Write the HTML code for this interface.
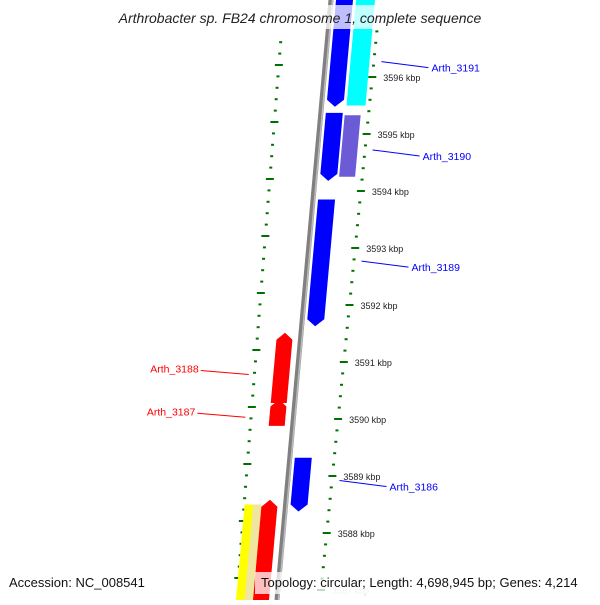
<!DOCTYPE html>
<html><head><meta charset="utf-8"><style>
body{margin:0;background:#fff}
svg text{font-family:"Liberation Sans","DejaVu Sans",sans-serif}
</style></head><body>
<svg id="c" width="600" height="600" viewBox="0 0 600 600" xmlns="http://www.w3.org/2000/svg">
<rect width="600" height="600" fill="#fff"/>
<g id="rulers"></g>
<line x1="331" y1="0" x2="277" y2="600" stroke="#808080" stroke-width="5"/>
<line x1="332.5" y1="0" x2="278.5" y2="600" stroke="#bbb" stroke-width="1.5"/>
<g id="genes"></g>
<g id="labels"></g>
<text x="300" y="23" text-anchor="middle" font-size="14" font-style="italic" fill="#222">Arthrobacter sp. FB24 chromosome 1, complete sequence</text>
<text x="9" y="587" font-size="13" fill="#111">Accession: NC_008541</text>
<text x="261" y="587" font-size="13" fill="#111">Topology: circular; Length: 4,698,945 bp; Genes: 4,214</text>
</svg>
<script>
// data (kbp)
const tickKbp=[3596,3595,3594,3593,3592,3591,3590,3589,3588,3587];
const geneNames=["Arth_3191a","Arth_3191","Arth_3190a","Arth_3190","Arth_3189","Arth_3188","Arth_3187","Arth_3186","yellow-a","red-b"];
const geneStart=[3597.4,3597.4,3595.37,3595.33,3593.85,3591.39,3590.22,3589.32,3588.5,3588.46];
const geneEnd=[3595.6,3595.5,3594.3,3594.25,3591.75,3590.28,3589.88,3588.5,3586.2,3586.2];
const geneStrand=[-1,0,-1,0,-1,1,1,-1,0,1];
const geneLane=["blue","cyan","blue","purple","blue","red","red","blue","yellow","red"];
const labelNames=["Arth_3191","Arth_3190","Arth_3189","Arth_3188","Arth_3187","Arth_3186"];
const labelKbp=[3596.2,3594.65,3592.7,3590.85,3590.1,3588.85];
const labelSide=[1,1,1,-1,-1,1];

const NS="http://www.w3.org/2000/svg";
const yOf=k=>77+(3596-k)*57;
const bb=y=>331-0.09*y;
const laneOff={blue:[5,22],cyan:[25,44],purple:[24,40],red:[-24,-8],yellow:[-41,-24]};
const laneCol={blue:"#0000ff",cyan:"#00ffff",purple:"#6b5bd6",red:"#ff0000",yellow:"#ffff00"};
function mk(t,a,p){const e=document.createElementNS(NS,t);for(const k in a)e.setAttribute(k,a[k]);p.appendChild(e);return e;}

// rulers
const R=document.getElementById("rulers");
const rx=y=>380-0.1*y, lx=y=>284-0.079*y;
for(let i=-6;i<=50;i++){
  const k=3596-i*0.2; const y=yOf(k); if(y<30||y>600)continue;
  const major=i%5===0;
  const x=rx(y);
  const d=mk("line",{x1:x-(major?4:1.5),y1:y,x2:x+(major?4:1.5),y2:y,stroke:"#007000","stroke-width":2},R);
  
  
  const y2=y-12; if(y2>40){const x2=lx(y2);
  const e=mk("line",{x1:x2-(major?4:1.5),y1:y2,x2:x2+(major?4:1.5),y2:y2,stroke:"#007000","stroke-width":2},R);
  
  }
}
tickKbp.forEach(k=>{const y=yOf(k);const t=mk("text",{x:rx(y)+11,y:y+4,"font-size":9,fill:"#222"},R);t.textContent=k+" kbp";
  if(y>570)t.setAttribute("fill","#ccc");
  
  });

// genes
const G=document.getElementById("genes");
geneNames.forEach((n,i)=>{
  const o=laneOff[geneLane[i]];
  const y1=yOf(geneStart[i]),y2=yOf(geneEnd[i]);
  const c1=bb(y1),c2=bb(y2);
  let pts;
  if(geneStrand[i]<0){
    const yt=y2+7, ct=bb(yt);
    pts=[[c1+o[0],y1],[c1+o[1],y1],[c2+o[1],y2],[ct+(o[0]+o[1])/2,yt],[c2+o[0],y2]];
  } else if(geneStrand[i]>0){
    const yt=y1-7, ct=bb(yt);
    pts=[[c1+o[0],y1],[ct+(o[0]+o[1])/2,yt],[c1+o[1],y1],[c2+o[1],y2],[c2+o[0],y2]];
  } else {
    pts=[[c1+o[0],y1],[c1+o[1],y1],[c2+o[1],y2],[c2+o[0],y2]];
  }
  const p=mk("polygon",{points:pts.map(q=>q.join(",")).join(" "),fill:laneCol[geneLane[i]]},G);
  
  
  if(geneLane[i]==="yellow"){const m=(o[0]+o[1])/2;
    mk("polygon",{points:[[c1+m,y1],[c1+o[1],y1],[c2+o[1],y2],[c2+m,y2]].map(q=>q.join(",")).join(" "),fill:"#f0e6a0"},G);}
});
mk("rect",{x:0,y:5,width:600,height:24,fill:"rgba(255,255,255,0.75)"},G);
mk("rect",{x:255,y:572,width:345,height:22,fill:"rgba(255,255,255,0.75)"},G);

// labels
const L=document.getElementById("labels");
labelNames.forEach((n,i)=>{
  const y=yOf(labelKbp[i]);const col=labelSide[i]>0?"#0000ff":"#ff0000";
  let l,t;
  if(labelSide[i]>0){const x0=rx(y)+8,x1=x0+47;
    l=mk("line",{x1:x0,y1:y-4,x2:x1,y2:y+2,stroke:col,"stroke-width":1},L);
    t=mk("text",{x:x1+3,y:y+6,"font-size":10.5,fill:col},L);
  } else {const x0=lx(y)-6,x1=x0-48;
    l=mk("line",{x1:x1,y1:y,x2:x0,y2:y+4,stroke:col,"stroke-width":1},L);
    t=mk("text",{x:x1-2,y:y+2,"font-size":10.5,fill:col,"text-anchor":"end"},L);
  }
  
  
  t.textContent=n;
  
  
});
</script>
</body></html>
